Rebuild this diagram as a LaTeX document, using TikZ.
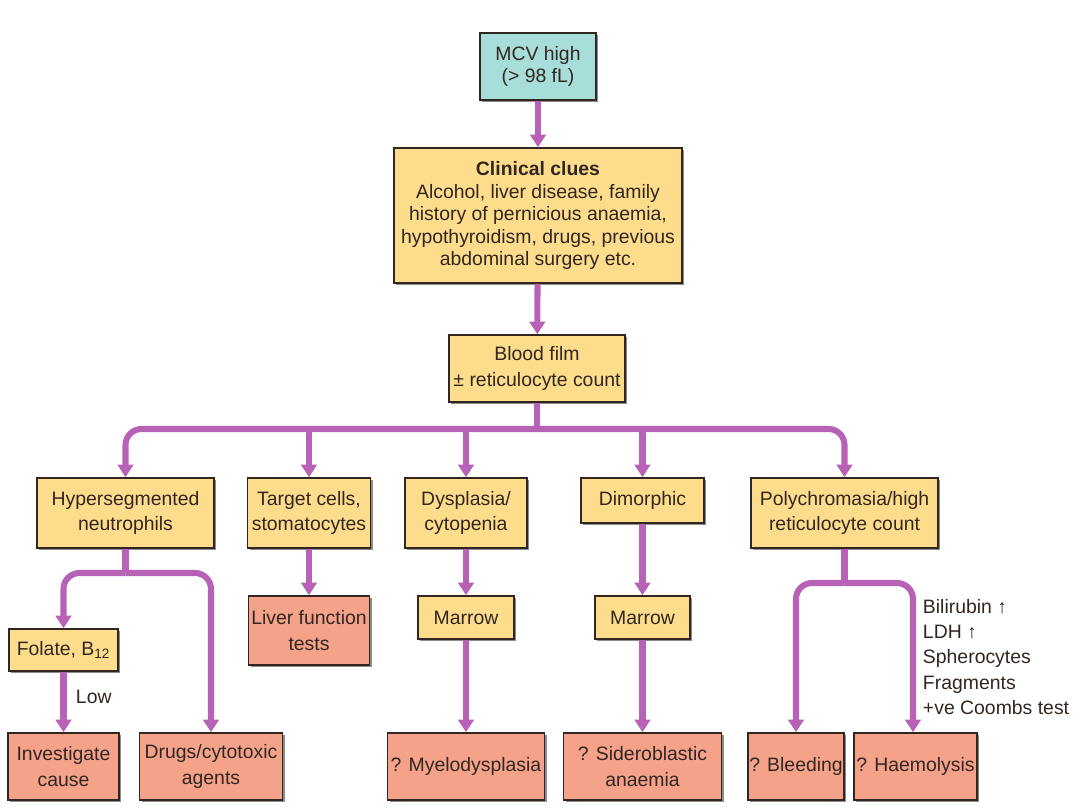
\documentclass[tikz,border=0pt]{standalone}
\usepackage{fontspec}
\setmainfont{Liberation Sans}
\usetikzlibrary{arrows.meta,shadows}
\definecolor{mcvblue}{RGB}{168,222,218}
\definecolor{clueyellow}{RGB}{253,220,140}
\definecolor{endsalmon}{RGB}{244,162,138}
\definecolor{flowpurple}{RGB}{183,98,182}
\definecolor{edgedark}{RGB}{50,38,32}

\begin{document}
\begin{tikzpicture}[x=0.025cm,y=-0.025cm,
    box/.style={rectangle,draw=edgedark,line width=1.1pt,fill=clueyellow,align=center,inner sep=1pt,
        text=edgedark,font=\fontsize{13.8}{18}\selectfont,
        drop shadow={shadow xshift=1.6pt,shadow yshift=-1.6pt,opacity=.45,fill=black}},
    res/.style={box,fill=endsalmon},
    sz/.style 2 args={minimum width=#1*0.025cm,minimum height=#2*0.025cm},
    flow/.style={draw=flowpurple,line width=4.3pt,>={Triangle[length=9pt,width=11pt]}},
    lbl/.style={text=edgedark,font=\fontsize{13.8}{18}\selectfont}]
    \useasboundingbox (0,0) rectangle (1080,810);
    \node[box,fill=mcvblue,sz={116}{67},font=\fontsize{13.8}{15}\selectfont] (mcv) at (538,66.5) {MCV high\\(> 98 fL)};
    \node[box,sz={288}{135},font=\fontsize{13.8}{16}\selectfont] (clues) at (538,215.5) {\textbf{Clinical clues}\\Alcohol, liver disease, family\\history of pernicious anaemia,\\hypothyroidism, drugs, previous\\abdominal surgery etc.};
    \node[box,sz={176}{67}] (blood) at (537,368.5) {Blood film\\± reticulocyte count};

    \node[box,sz={177}{70}] (hyper) at (125.5,513) {Hypersegmented\\neutrophils};
    \node[box,sz={123}{70}] (target) at (309,513) {Target cells,\\stomatocytes};
    \node[box,sz={122}{70}] (dysp) at (466,513) {Dysplasia/\\cytopenia};
    \node[box,sz={123}{45}] (dimorph) at (642.5,500.5) {Dimorphic};
    \node[box,sz={187}{70}] (poly) at (844.5,513) {Polychromasia/high\\reticulocyte count};

    \node[box,sz={109}{42}] (folate) at (63.5,650) {Folate, B\textsubscript{12}};
    \node[res,sz={121}{69}] (liver) at (309,630.5) {Liver function\\tests};
    \node[box,sz={96}{43}] (marrowa) at (466,617.5) {Marrow};
    \node[box,sz={95}{43}] (marrowb) at (642.5,617.5) {Marrow};

    \node[res,sz={111}{67}] (invest) at (63.5,766.5) {Investigate\\cause};
    \node[res,sz={143}{67}] (drugs) at (211,766.5) {Drugs/cytotoxic\\agents};
    \node[res,sz={157}{67}] (myelo) at (466,766.5) {? Myelodysplasia};
    \node[res,sz={158}{67}] (sidero) at (642.5,766.5) {? Sideroblastic\\anaemia};
    \node[res,sz={96}{67}] (bleed) at (796,766.5) {? Bleeding};
    \node[res,sz={123}{67}] (haemo) at (915.5,766.5) {? Haemolysis};

    \node[lbl,anchor=west] (low) at (71,697) {Low};
    \node[lbl,anchor=west,align=left] (haemclues) at (918,657) {Bilirubin ↑\\LDH ↑\\Spherocytes\\Fragments\\+ve Coombs test};

    \coordinate (bar) at (537,429);
    \coordinate (hsplit) at (125.5,573);
    \coordinate (psplit) at (844.5,583);

    \draw [flow,->] (mcv) -- (clues);
    \draw [flow,->] (clues) -- (blood);
    \draw [flow] (blood) -- (bar);
    \draw [flow,->,rounded corners=0.4cm] (bar) -| (hyper.north);
    \draw [flow,->,rounded corners=0.4cm] (bar) -| (poly.north);
    \draw [flow,->] (bar -| target.north) -- (target.north);
    \draw [flow,->] (bar -| dysp.north) -- (dysp.north);
    \draw [flow,->] (bar -| dimorph.north) -- (dimorph.north);

    \draw [flow] (hyper) -- (hsplit);
    \draw [flow,->,rounded corners=0.4cm] (hsplit) -| (folate.north);
    \draw [flow,->,rounded corners=0.4cm] (hsplit) -| (drugs.north);
    \draw [flow,->] (folate) -- (invest);
    \draw [flow,->] (target) -- (liver);
    \draw [flow,->] (dysp) -- (marrowa);
    \draw [flow,->] (marrowa) -- (myelo);
    \draw [flow,->] (dimorph) -- (marrowb);
    \draw [flow,->] (marrowb) -- (sidero);
    \draw [flow] (poly) -- (psplit);
    \draw [flow,->,rounded corners=0.4cm] (psplit) -| (bleed.north);
    \draw [flow,->,rounded corners=0.4cm] (psplit) -| ([xshift=-2.5*0.025cm]haemo.north);
\end{tikzpicture}
\end{document}
